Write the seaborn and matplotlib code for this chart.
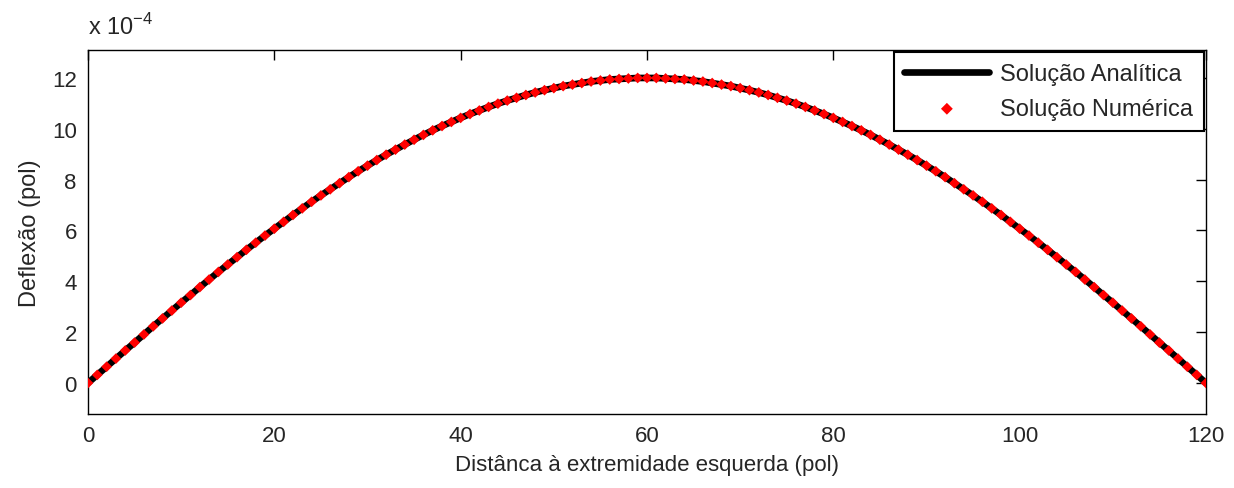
#!/usr/bin/env python3
import matplotlib
matplotlib.use("Agg")
import matplotlib.pyplot as plt
import matplotlib.ticker as mticker
import numpy as np
import pandas as pd
import seaborn as sns

sns.set_style("white")
plt.rcParams["font.family"] = ["Liberation Sans", "DejaVu Sans"]

# Distance from the left end (pol), one point per inch.
distancia = list(range(0, 121))

# Deflection, in units of 1e-4 pol.
deflexao_e4 = [
    0.00, 0.32, 0.64, 0.96, 1.28, 1.59, 1.91, 2.23, 2.54, 2.85,
    3.16, 3.46, 3.77, 4.07, 4.37, 4.66, 4.95, 5.24, 5.52, 5.80,
    6.07, 6.34, 6.61, 6.87, 7.13, 7.38, 7.62, 7.86, 8.10, 8.33,
    8.55, 8.77, 8.98, 9.18, 9.38, 9.57, 9.76, 9.94, 10.11, 10.27,
    10.43, 10.58, 10.72, 10.86, 10.99, 11.11, 11.22, 11.33, 11.43, 11.52,
    11.60, 11.68, 11.74, 11.80, 11.86, 11.90, 11.94, 11.96, 11.98, 12.00,
    12.00,
    12.00, 11.98, 11.96, 11.94, 11.90, 11.86, 11.80, 11.74, 11.68, 11.60,
    11.52, 11.43, 11.33, 11.22, 11.11, 10.99, 10.86, 10.72, 10.58, 10.43,
    10.27, 10.11, 9.94, 9.76, 9.57, 9.38, 9.18, 8.98, 8.77, 8.55,
    8.33, 8.10, 7.86, 7.62, 7.38, 7.13, 6.87, 6.61, 6.34, 6.07,
    5.80, 5.52, 5.24, 4.95, 4.66, 4.37, 4.07, 3.77, 3.46, 3.16,
    2.85, 2.54, 2.23, 1.91, 1.59, 1.28, 0.96, 0.64, 0.32, 0.00,
]

data = pd.DataFrame({
    "x": distancia,
    "y": np.array(deflexao_e4) * 1e-4,
})

fs = 16
txt = "#262626"

fig = plt.figure(figsize=(12.34, 4.89), dpi=100)
ax = fig.add_axes([0.0713, 0.1513, 0.906, 0.7444])

sns.lineplot(
    x="x", y="y", data=data, color="black", linewidth=4.8,
    label="Solução Analítica", ax=ax,
)
sns.scatterplot(
    x="x", y="y", data=data, color="red", marker="D", s=30,
    edgecolor="none", label="Solução Numérica", ax=ax, zorder=3,
)

ax.set_xlim(0, 120)
ax.set_ylim(-1.22e-4, 13.1e-4)
ax.set_xticks([0, 20, 40, 60, 80, 100, 120])
ax.set_yticks(np.arange(0, 13, 2) * 1e-4)
ax.yaxis.set_major_formatter(
    mticker.FuncFormatter(lambda v, pos: "{:g}".format(round(v / 1e-4, 6)))
)
ax.text(0.0, 1.03, "x 10$^{\\mathregular{-4}}$", transform=ax.transAxes,
        fontsize=17, ha="left", va="bottom", color=txt)

ax.set_xlabel("Distânca à extremidade esquerda (pol)", fontsize=fs, color=txt,
              labelpad=6)
ax.set_ylabel("Deflexão (pol)", fontsize=17, color=txt, labelpad=8)
ax.tick_params(direction="in", top=True, right=True, length=7, width=1,
               labelsize=fs, colors="black", labelcolor=txt, pad=8)
for s in ax.spines.values():
    s.set_color("black")
    s.set_linewidth(1)

leg = ax.legend(loc="upper right", fontsize=17, frameon=True, fancybox=False,
                borderaxespad=0.1, handlelength=3.6, handletextpad=0.45,
                labelspacing=0.55, borderpad=0.45, markerscale=1.1)
leg.get_frame().set_edgecolor("black")
leg.get_frame().set_linewidth(1.5)
leg.get_frame().set_alpha(1)

fig.savefig("out.png", dpi=100)
